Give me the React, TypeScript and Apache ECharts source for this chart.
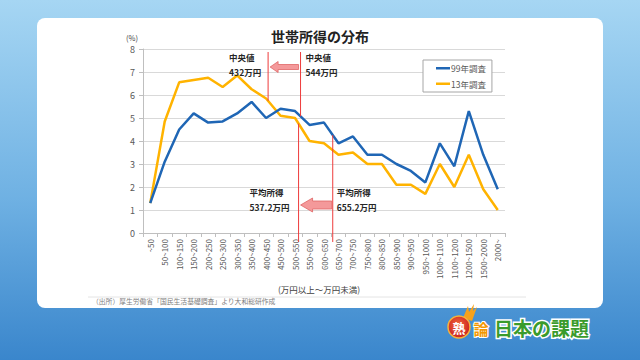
import React, { useEffect, useRef } from "react";
import * as echarts from "echarts";

const categories = [
  "~50", "50~100", "100~150", "150~200", "200~250", "250~300", "300~350",
  "350~400", "400~450", "450~500", "500~550", "550~600", "600~650", "650~700",
  "700~750", "750~800", "800~850", "850~900", "900~950", "950~1000",
  "1000~1100", "1100~1200", "1200~1500", "1500~2000", "2000~",
];
const binEdges = [0, 50, 100, 150, 200, 250, 300, 350, 400, 450, 500, 550, 600, 650, 700, 750, 800, 850, 900, 950, 1000, 1100, 1200, 1500, 2000, 3000];

const survey99 = [1.3, 3.1, 4.5, 5.2, 4.8, 4.85, 5.2, 5.7, 5.0, 5.4, 5.3, 4.7, 4.8, 3.9, 4.2, 3.4, 3.4, 3.0, 2.7, 2.2, 3.9, 2.9, 5.3, 3.4, 1.9];
const survey13 = [1.3, 4.85, 6.55, 6.65, 6.75, 6.35, 6.85, 6.25, 5.85, 5.1, 5.0, 4.0, 3.9, 3.4, 3.5, 3.0, 3.0, 2.1, 2.1, 1.7, 3.0, 2.0, 3.4, 1.9, 1.0];

const seriesNames = ["99年調査", "13年調査"];
const medianIncome = { y99: 544, y13: 432 };
const averageIncome = { y99: 655.2, y13: 537.2 };

const FONT = "'Noto Sans CJK JP', 'Noto Sans', sans-serif";
const BLUE = "#1f66b5";
const YELLOW = "#ffb300";
const RED = "#ee3b3b";

export default function App() {
  const ref = useRef<HTMLDivElement>(null);

  useEffect(() => {
    if (!ref.current) return;
    const chart = echarts.init(ref.current, null, { renderer: "svg", width: 640, height: 360 });
    chart.setOption({
      animation: false,
      backgroundColor: "transparent",
      textStyle: { fontFamily: FONT },
      title: {
        text: "世帯所得の分布",
        left: "center",
        top: 24,
        textStyle: { fontSize: 14, fontWeight: "bold", color: "#222", fontFamily: FONT },
      },
      grid: { left: 143, right: 135, top: 49, bottom: 127 },
      legend: {
        orient: "vertical",
        left: 423,
        top: 60,
        data: seriesNames,
        icon: "rect",
        itemWidth: 14,
        itemHeight: 2.5,
        itemGap: 7,
        padding: [4, 6, 4, 13],
        backgroundColor: "#fff",
        borderColor: "#a6a6a6",
        borderWidth: 1,
        textStyle: { fontSize: 8.5, color: "#595959", fontFamily: FONT, padding: [0, 0, 0, -4] },
      },
      xAxis: {
        type: "category",
        data: categories,
        boundaryGap: true,
        axisLine: { lineStyle: { color: "#bfbfbf" } },
        axisTick: { show: true, length: 4, lineStyle: { color: "#bfbfbf" } },
        axisLabel: { rotate: 90, fontSize: 8, color: "#595959", margin: 6, interval: 0, fontFamily: FONT },
      },
      yAxis: {
        type: "value",
        min: 0,
        max: 8,
        interval: 1,
        axisLine: { show: true, lineStyle: { color: "#bfbfbf" } },
        axisTick: { show: true, length: 4, lineStyle: { color: "#bfbfbf" } },
        axisLabel: { fontSize: 9, color: "#595959", margin: 8, fontFamily: FONT },
        splitLine: { lineStyle: { color: "#d9d9d9" } },
      },
      series: [
        { name: seriesNames[0], type: "line", data: survey99, symbol: "none", lineStyle: { width: 2.5, color: BLUE }, itemStyle: { color: BLUE }, z: 3 },
        { name: seriesNames[1], type: "line", data: survey13, symbol: "none", lineStyle: { width: 2.5, color: YELLOW }, itemStyle: { color: YELLOW }, z: 2 },
      ],
    });

    const x0 = chart.convertToPixel({ xAxisIndex: 0 }, 0) as number;
    const x1 = chart.convertToPixel({ xAxisIndex: 0 }, 1) as number;
    const w = x1 - x0;
    const yOf = (v: number) => chart.convertToPixel({ yAxisIndex: 0 }, v) as number;
    const valueToX = (v: number) => {
      let i = 0;
      while (i < binEdges.length - 2 && v >= binEdges[i + 1]) i++;
      const frac = (v - binEdges[i]) / (binEdges[i + 1] - binEdges[i]);
      return x0 - w / 2 + (i + frac) * w;
    };
    const curveY = (s: number[], x: number) => {
      const f = (x - x0) / w;
      const i = Math.max(0, Math.min(s.length - 2, Math.floor(f)));
      const t = f - i;
      return yOf(s[i] * (1 - t) + s[i + 1] * t);
    };

    const yTop = yOf(8);
    const yZero = yOf(0);
    const xm13 = valueToX(medianIncome.y13);
    const xm99 = valueToX(medianIncome.y99);
    const xa13 = valueToX(averageIncome.y13);
    const xa99 = valueToX(averageIncome.y99);

    const arrow = (xTip: number, xTail: number, yc: number, bodyH: number, headH: number, headL: number) => ({
      type: "polygon",
      z: 20,
      shape: {
        points: [
          [xTip, yc],
          [xTip + headL, yc - headH],
          [xTip + headL, yc - bodyH],
          [xTail, yc - bodyH],
          [xTail, yc + bodyH],
          [xTip + headL, yc + bodyH],
          [xTip + headL, yc + headH],
        ],
      },
      style: { fill: "#f4999a", stroke: "#e06666", lineWidth: 0.8 },
    });
    const label = (x: number, y: number, text: string) => ({
      type: "text",
      z: 20,
      x,
      y,
      style: { text, fontSize: 8.5, fontWeight: "bold", fill: "#262626", fontFamily: FONT, align: "left", verticalAlign: "middle" },
    });
    const vline = (x: number, ya: number, yb: number) => ({
      type: "line",
      z: 19,
      shape: { x1: x, y1: ya, x2: x, y2: yb },
      style: { stroke: RED, lineWidth: 1 },
    });

    chart.setOption({
      graphic: [
        {
          type: "text",
          x: 138,
          y: 37,
          style: { text: "(%)", fontSize: 7.5, fill: "#404040", fontFamily: FONT, align: "right", verticalAlign: "middle" },
        },
        vline(xm13, yTop + 3, curveY(survey13, xm13)),
        vline(xm99, yTop + 3, curveY(survey99, xm99)),
        vline(xa13, curveY(survey13, xa13), yZero + 9),
        vline(xa99, curveY(survey99, xa99), yZero + 9),
        arrow(xm13 + 2, xm99 - 2, yTop + 18, 2.5, 5.5, 8),
        arrow(xa13 + 2, xa99 - 1, yZero - 28, 4, 7, 12),
        label(xm13 - 39, yTop + 8, "中央値"),
        label(xm13 - 39, yTop + 23, "432万円"),
        label(xm99 + 5, yTop + 8, "中央値"),
        label(xm99 + 5, yTop + 23, "544万円"),
        label(xa13 - 49, yZero - 41, "平均所得"),
        label(xa13 - 49, yZero - 26, "537.2万円"),
        label(xa99 + 4, yZero - 41, "平均所得"),
        label(xa99 + 4, yZero - 26, "655.2万円"),
        {
          type: "text",
          x: 278,
          y: 289,
          style: { text: "(万円以上～万円未満)", fontSize: 8.5, fill: "#404040", fontFamily: FONT, verticalAlign: "middle" },
        },
        {
          type: "line",
          shape: { x1: 88, y1: 297, x2: 526, y2: 297 },
          style: { stroke: "#e4e4e4", lineWidth: 1 },
        },
        {
          type: "text",
          x: 92,
          y: 301,
          style: { text: "（出所）厚生労働省「国民生活基礎調査」より大和総研作成", fontSize: 6.8, fill: "#808080", fontFamily: FONT, verticalAlign: "middle" },
        },
        // logo
        {
          type: "polygon",
          shape: { points: [[463, 318], [468, 306], [469, 312], [474, 304], [473, 311], [477, 307], [472, 321]] },
          style: { fill: "#f7a21b" },
        },
        {
          type: "circle",
          shape: { cx: 459, cy: 327, r: 11 },
          style: {
            fill: new echarts.graphic.RadialGradient(0.45, 0.4, 0.7, [
              { offset: 0, color: "#f2683a" },
              { offset: 1, color: "#c4161c" },
            ]),
            stroke: "#f7b23b",
            lineWidth: 1.5,
          },
        },
        {
          type: "text",
          x: 459,
          y: 327,
          style: { text: "熟", fontSize: 13, fontWeight: "bold", fill: "#fff", fontFamily: FONT, align: "center", verticalAlign: "middle" },
        },
        {
          type: "text",
          x: 481,
          y: 328,
          style: { text: "論", fontSize: 15, fontWeight: "bold", fill: "#f39800", stroke: "#fff", lineWidth: 2, fontFamily: FONT, align: "center", verticalAlign: "middle" },
        },
        {
          type: "text",
          x: 494,
          y: 327,
          style: {
            text: "日本の課題",
            fontSize: 19,
            fontWeight: "bold",
            fill: "#3a9b2c",
            stroke: "#fff",
            lineWidth: 3,
            fontFamily: FONT,
            align: "left",
            verticalAlign: "middle",
            shadowColor: "rgba(0,0,0,0.5)",
            shadowBlur: 2,
            shadowOffsetX: 1,
            shadowOffsetY: 1,
          },
        },
      ],
    });

    return () => chart.dispose();
  }, []);

  return (
    <div
      style={{
        position: "fixed",
        left: 0,
        top: 0,
        width: 640,
        height: 360,
        background: "linear-gradient(180deg, #a6d6f3 0%, #6fb1e3 55%, #3a86cc 100%)",
        overflow: "hidden",
      }}
    >
      <div
        style={{
          position: "absolute",
          left: 37,
          top: 18,
          width: 566,
          height: 290,
          background: "#fff",
          borderRadius: 8,
        }}
      />
      <div ref={ref} style={{ position: "absolute", left: 0, top: 0, width: 640, height: 360 }} />
    </div>
  );
}
